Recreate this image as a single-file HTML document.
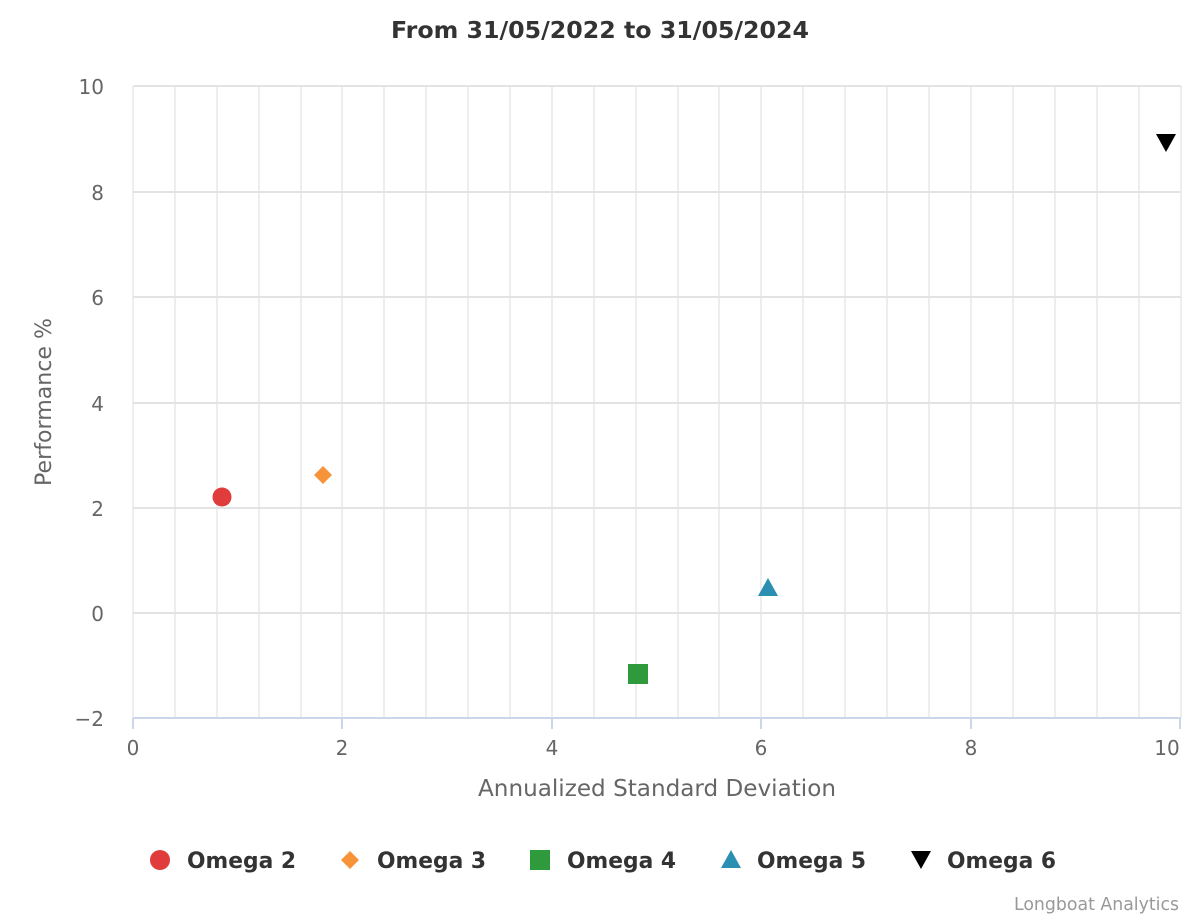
<!DOCTYPE html><html><head><style>body{margin:0;background:#fff}svg{display:block}</style></head><body>
<svg width="1200" height="920" xmlns="http://www.w3.org/2000/svg" font-family="'DejaVu Sans','Liberation Sans',sans-serif">
<rect width="1200" height="920" fill="#fff"/>
<text x="600" y="38" text-anchor="middle" font-size="23.5" font-weight="bold" fill="#333" textLength="418" lengthAdjust="spacingAndGlyphs">From 31/05/2022 to 31/05/2024</text>
<g stroke="#e9e9e9" stroke-width="1.5">
<line x1="175" y1="86" x2="175" y2="718"/><line x1="217" y1="86" x2="217" y2="718"/><line x1="259" y1="86" x2="259" y2="718"/><line x1="301" y1="86" x2="301" y2="718"/><line x1="342" y1="86" x2="342" y2="718"/>
<line x1="384" y1="86" x2="384" y2="718"/><line x1="426" y1="86" x2="426" y2="718"/><line x1="468" y1="86" x2="468" y2="718"/><line x1="510" y1="86" x2="510" y2="718"/><line x1="552" y1="86" x2="552" y2="718"/>
<line x1="594" y1="86" x2="594" y2="718"/><line x1="636" y1="86" x2="636" y2="718"/><line x1="678" y1="86" x2="678" y2="718"/><line x1="719" y1="86" x2="719" y2="718"/><line x1="761" y1="86" x2="761" y2="718"/>
<line x1="803" y1="86" x2="803" y2="718"/><line x1="845" y1="86" x2="845" y2="718"/><line x1="887" y1="86" x2="887" y2="718"/><line x1="929" y1="86" x2="929" y2="718"/><line x1="971" y1="86" x2="971" y2="718"/>
<line x1="1013" y1="86" x2="1013" y2="718"/><line x1="1055" y1="86" x2="1055" y2="718"/><line x1="1097" y1="86" x2="1097" y2="718"/><line x1="1139" y1="86" x2="1139" y2="718"/><line x1="1181" y1="86" x2="1181" y2="718"/>
<line x1="133" y1="86" x2="133" y2="718"/>
</g>
<g stroke="#e3e3e3" stroke-width="2">
<line x1="133" y1="86" x2="1181" y2="86"/><line x1="133" y1="192" x2="1181" y2="192"/><line x1="133" y1="297" x2="1181" y2="297"/><line x1="133" y1="403" x2="1181" y2="403"/><line x1="133" y1="508" x2="1181" y2="508"/><line x1="133" y1="613" x2="1181" y2="613"/>
</g>
<g stroke="#ccd6eb" stroke-width="2">
<line x1="133" y1="718" x2="1181" y2="718"/>
<line x1="133" y1="718" x2="133" y2="729"/><line x1="342" y1="718" x2="342" y2="729"/><line x1="552" y1="718" x2="552" y2="729"/><line x1="761" y1="718" x2="761" y2="729"/><line x1="971" y1="718" x2="971" y2="729"/><line x1="1180" y1="718" x2="1180" y2="729"/>
</g>
<g font-size="20" fill="#666" text-anchor="end">
<text x="104" y="94">10</text><text x="104" y="200">8</text><text x="104" y="305">6</text><text x="104" y="411">4</text><text x="104" y="516">2</text><text x="104" y="621">0</text><text x="104" y="726">−2</text>
</g>
<g font-size="20" fill="#666" text-anchor="middle">
<text x="133" y="755">0</text><text x="342" y="755">2</text><text x="552" y="755">4</text><text x="761" y="755">6</text><text x="971" y="755">8</text><text x="1167" y="755">10</text>
</g>
<text x="657" y="796" text-anchor="middle" font-size="23" fill="#666" textLength="358" lengthAdjust="spacingAndGlyphs">Annualized Standard Deviation</text>
<text transform="translate(51,402) rotate(-90)" text-anchor="middle" font-size="22" fill="#666" textLength="168" lengthAdjust="spacingAndGlyphs">Performance %</text>
<circle cx="222" cy="497" r="9.5" fill="#e03c3c"/>
<path d="M323 466 L332 475 L323 484 L314 475Z" fill="#f7943a"/>
<rect x="628" y="664" width="20" height="20" fill="#2e9a3c"/>
<path d="M768 578 L778 596 L758 596Z" fill="#2a8fb0"/>
<path d="M1156 134 L1176 134 L1166 152Z" fill="#000"/>
<g font-size="22" font-weight="bold" fill="#333">
<circle cx="160" cy="860" r="10" fill="#e03c3c"/><text x="187" y="868" textLength="109" lengthAdjust="spacingAndGlyphs">Omega 2</text>
<path d="M350 851 L359 860 L350 869 L341 860Z" fill="#f7943a"/><text x="377" y="868" textLength="109" lengthAdjust="spacingAndGlyphs">Omega 3</text>
<rect x="530" y="850" width="20" height="20" fill="#2e9a3c"/><text x="567" y="868" textLength="109" lengthAdjust="spacingAndGlyphs">Omega 4</text>
<path d="M731 850 L741 868 L721 868Z" fill="#2a8fb0"/><text x="757" y="868" textLength="109" lengthAdjust="spacingAndGlyphs">Omega 5</text>
<path d="M911 851 L931 851 L921 869Z" fill="#000"/><text x="947" y="868" textLength="109" lengthAdjust="spacingAndGlyphs">Omega 6</text>
</g>
<text x="1179" y="910" text-anchor="end" font-size="17.5" fill="#999" textLength="165" lengthAdjust="spacingAndGlyphs">Longboat Analytics</text>
</svg></body></html>
